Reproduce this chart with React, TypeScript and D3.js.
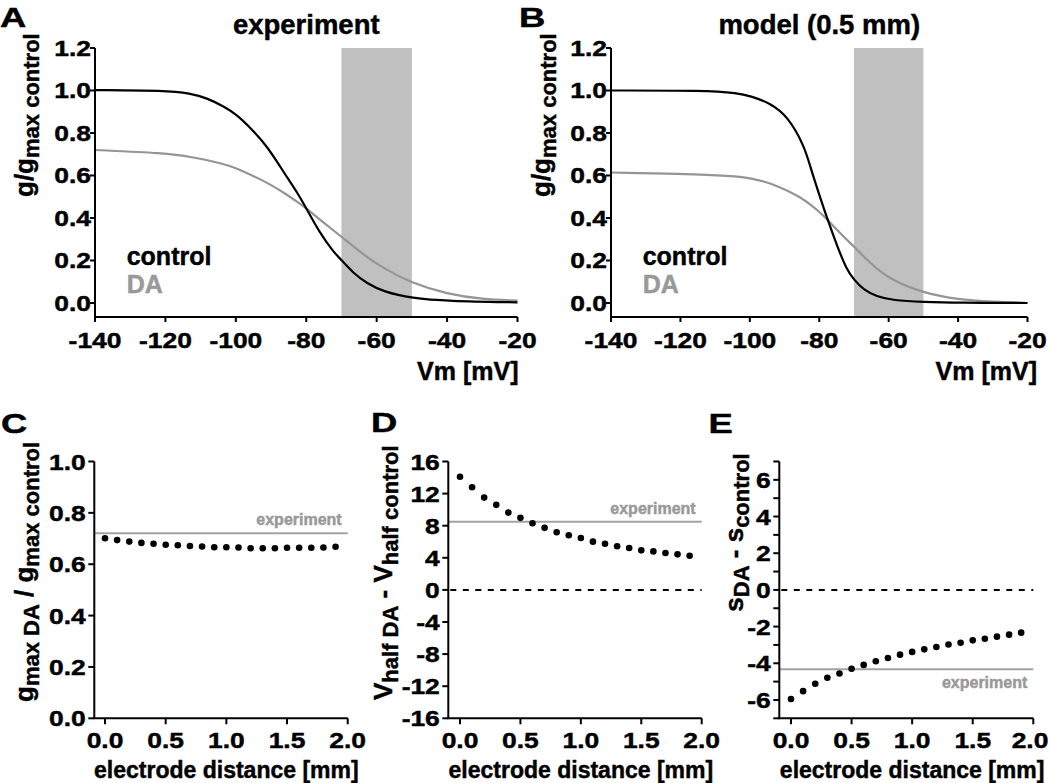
import React from "react";
import * as d3 from "d3";

// ---------- data ----------
const vmTicks = [-140, -120, -100, -80, -60, -40, -20];
const gTicks = [0, 0.2, 0.4, 0.6, 0.8, 1.0, 1.2];
const distTicks = [0, 0.5, 1.0, 1.5, 2.0];
const gmaxTicks = [0, 0.2, 0.4, 0.6, 0.8, 1.0];
const vhalfTicks = [-16, -12, -8, -4, 0, 4, 8, 12, 16];
const slopeTicks = [-6, -4, -2, 0, 2, 4, 6];
const slopeMinorTicks = [-7, -6, -5, -4, -3, -2, -1, 0, 1, 2, 3, 4, 5, 6, 7];

const windowVm = [-70, -50];

// Panel A (experiment)
const vmCtrlA = [-140, -120, -113, -108, -103.3, -100, -95.7, -91, -86.2, -82.4, -80, -76.1, -72.3, -70, -66.6, -62.8, -58.1, -50, -40, -20];
const gCtrlA = [1.002, 1.0, 0.987, 0.963, 0.924, 0.889, 0.822, 0.736, 0.61, 0.516, 0.446, 0.328, 0.241, 0.202, 0.14, 0.093, 0.053, 0.022, 0.009, 0.003];
const vmDaA = [-140, -120, -113, -103, -100, -96, -91, -86, -82, -80, -76, -70, -63, -58, -50, -40, -30, -20];
const gDaA = [0.72, 0.705, 0.689, 0.654, 0.634, 0.605, 0.566, 0.516, 0.469, 0.446, 0.39, 0.312, 0.218, 0.163, 0.093, 0.042, 0.017, 0.011];

// Panel B (model 0.5 mm)
const vmCtrlB = [-140, -113, -103.4, -100, -94, -89, -84.2, -82.4, -80, -77.6, -74.8, -72.1, -70, -67.3, -63.5, -58.8, -50, -40, -20];
const gCtrlB = [1.0, 1.0, 0.988, 0.975, 0.94, 0.877, 0.736, 0.63, 0.51, 0.392, 0.266, 0.157, 0.11, 0.063, 0.031, 0.012, 0.005, 0.001, 0.0];
const vmDaB = [-140, -113, -103.4, -100, -94, -89, -84.2, -80, -77.6, -73, -70, -65.4, -59.7, -50, -40, -30, -20];
const gDaB = [0.614, 0.606, 0.595, 0.588, 0.565, 0.527, 0.486, 0.43, 0.392, 0.312, 0.266, 0.188, 0.11, 0.047, 0.016, 0.006, 0.0];

// Panels C-E (model vs electrode distance)
const distance = [0, 0.1, 0.2, 0.3, 0.4, 0.5, 0.6, 0.7, 0.8, 0.9, 1.0, 1.1, 1.2, 1.3, 1.4, 1.5, 1.6, 1.7, 1.8, 1.9];
const gmaxRatio = [0.701, 0.694, 0.688, 0.683, 0.68, 0.676, 0.674, 0.671, 0.669, 0.666, 0.666, 0.665, 0.662, 0.662, 0.662, 0.664, 0.664, 0.664, 0.665, 0.668];
const vhalfDiff = [14.1, 12.8, 11.5, 10.6, 9.63, 8.98, 8.3, 7.73, 7.18, 6.81, 6.47, 6.01, 5.76, 5.43, 5.22, 4.93, 4.8, 4.59, 4.43, 4.26];
const slopeDiff = [-5.95, -5.52, -5.12, -4.79, -4.56, -4.3, -4.09, -3.89, -3.71, -3.53, -3.38, -3.24, -3.11, -2.98, -2.88, -2.75, -2.66, -2.55, -2.44, -2.33];

const expGmax = 0.721;
const expVhalf = 8.5;
const expSlope = -4.32;

// ---------- styles ----------
const FONT = "'Liberation Sans', Arial, Helvetica, sans-serif";
const GRAY_LINE = "#959595";
const GRAY_TEXT = "#999999";
const EXP_LINE = "#a3a3a3";
const RECT = "#c0c0c0";
const TEXT_STROKE = 0.45;

type TProps = {
  x: number; y: number; size: number; anchor?: string; sx?: number; fill?: string; children: React.ReactNode;
};
function T({ x, y, size, anchor = "start", sx = 1, fill = "#000", children }: TProps) {
  return (
    <text
      transform={`translate(${x},${y}) scale(${sx},1)`}
      fontFamily={FONT}
      fontWeight="bold"
      fontSize={size}
      textAnchor={anchor}
      fill={fill}
      stroke={fill}
      strokeWidth={TEXT_STROKE}
    >
      {children}
    </text>
  );
}

const TICK_SX = 1.2;
const TICK_SIZE = 22;

function VPanel(props: {
  x0: number; x1: number; title: string; letter: string; letterX: number;
  yLabelX: number; vmLabelEnd: number;
  ctrl: [number[], number[]]; da: [number[], number[]];
}) {
  const { x0, x1, title, letter, letterX, yLabelX, vmLabelEnd, ctrl, da } = props;
  const x = d3.scaleLinear().domain([-140, -20]).range([x0, x1]);
  const y = d3.scaleLinear().domain([-0.066, 1.2]).range([317, 48]);
  const line = d3.line<[number, number]>().x((d) => x(d[0])).y((d) => y(d[1])).curve(d3.curveBasis);
  const ctrlPts = ctrl[0].map((v, i) => [v, ctrl[1][i]] as [number, number]);
  const daPts = da[0].map((v, i) => [v, da[1][i]] as [number, number]);
  const fmt = d3.format(".1f");
  return (
    <g>
      <rect x={x(windowVm[0])} y={y(1.2)} width={x(windowVm[1]) - x(windowVm[0])} height={y(-0.066) - y(1.2)} fill={RECT} />
      <path d={line(daPts) || ""} fill="none" stroke={GRAY_LINE} strokeWidth={2.2} />
      <path d={line(ctrlPts) || ""} fill="none" stroke="#000" strokeWidth={2.2} />
      {/* axes */}
      <line x1={x0} x2={x0} y1={y(1.2)} y2={y(-0.066)} stroke="#000" strokeWidth={2} />
      <line x1={x0 - 1} x2={x1} y1={y(-0.066)} y2={y(-0.066)} stroke="#000" strokeWidth={2} />
      {gTicks.map((t) => (
        <g key={"gy" + t}>
          <line x1={x0 - 5} x2={x0} y1={y(t)} y2={y(t)} stroke="#000" strokeWidth={2} />
          <T x={x0 - 4} y={y(t) + 8} size={TICK_SIZE} anchor="end" sx={TICK_SX}>{fmt(t)}</T>
        </g>
      ))}
      {vmTicks.map((t) => (
        <g key={"gx" + t}>
          <line x1={x(t)} x2={x(t)} y1={y(-0.066)} y2={y(-0.066) + 5} stroke="#000" strokeWidth={2} />
          <T x={x(t)} y={348} size={TICK_SIZE} anchor="middle" sx={TICK_SX}>{String(t)}</T>
        </g>
      ))}
      <T x={vmLabelEnd} y={380} size={25} anchor="end">Vm [mV]</T>
      <T x={(x0 + x1) / 2} y={34} size={27.5} anchor="middle">{title}</T>
      <T x={letterX} y={27} size={28} sx={1.3}>{letter}</T>
      <T x={x0 + 31.7} y={265} size={25}>control</T>
      <T x={x0 + 31.7} y={293} size={25} fill={GRAY_TEXT}>DA</T>
      <text transform={`translate(${yLabelX},197) rotate(-90)`} fontFamily={FONT} fontWeight="bold" fontSize={26}
        stroke="#000" strokeWidth={TEXT_STROKE}>
        g/g<tspan fontSize={22} dy={5.5}>max control</tspan>
      </text>
    </g>
  );
}

function DistPanel(props: {
  x0: number; xZero: number; xTwo: number; domainY: [number, number]; ticks: number[]; minor?: number[];
  fmt: (v: number) => string; values: number[]; exp: number; expTextBelow?: boolean; zeroLine?: boolean;
  letter: string; letterX: number; letterY: number; yLabel: React.ReactNode; yLabelX: number; yLabelStart: number;
}) {
  const p = props;
  const scale = (p.xTwo - p.xZero) / 2;
  const x = d3.scaleLinear().domain([(p.x0 - p.xZero) / scale, 2]).range([p.x0, p.xTwo]);
  const y = d3.scaleLinear().domain(p.domainY).range([718.3, 461.5]);
  const yb = y(p.domainY[0]);
  const minor = p.minor || p.ticks;
  return (
    <g>
      {p.zeroLine && (
        <line x1={p.x0 + 2} x2={p.xTwo} y1={y(0)} y2={y(0)} stroke="#000" strokeWidth={2} strokeDasharray="6 6.5" />
      )}
      <line x1={p.x0} x2={p.xTwo} y1={y(p.exp)} y2={y(p.exp)} stroke={EXP_LINE} strokeWidth={2} />
      <T x={p.xTwo - 6} y={p.expTextBelow ? y(p.exp) + 19 : y(p.exp) - 8} size={16} anchor="end" fill={GRAY_TEXT}>experiment</T>
      {distance.map((d, i) => (
        <circle key={"pt" + i} cx={x(d)} cy={y(p.values[i])} r={3.3} fill="#000" />
      ))}
      <line x1={p.x0} x2={p.x0} y1={y(p.domainY[1])} y2={yb} stroke="#000" strokeWidth={2} />
      <line x1={p.x0 - 1} x2={p.xTwo} y1={yb} y2={yb} stroke="#000" strokeWidth={2} />
      {minor.map((t) => (
        <line key={"mn" + t} x1={p.x0 - 6} x2={p.x0} y1={y(t)} y2={y(t)} stroke="#000" strokeWidth={2} />
      ))}
      {p.ticks.map((t) => (
        <T key={"yt" + t} x={p.x0 - 8.5} y={y(t) + 8} size={TICK_SIZE} anchor="end" sx={TICK_SX}>{p.fmt(t)}</T>
      ))}
      {distTicks.map((t) => (
        <g key={"xt" + t}>
          <line x1={x(t)} x2={x(t)} y1={yb} y2={yb + 6} stroke="#000" strokeWidth={2} />
          <T x={Math.min(x(t), 1030)} y={748.3} size={TICK_SIZE} anchor="middle" sx={TICK_SX}>{d3.format(".1f")(t)}</T>
        </g>
      ))}
      <T x={x(1.0)} y={778} size={23} anchor="middle">electrode distance [mm]</T>
      <T x={p.letterX} y={p.letterY} size={28} sx={1.3}>{p.letter}</T>
      <text transform={`translate(${p.yLabelX},${p.yLabelStart}) rotate(-90)`} fontFamily={FONT} fontWeight="bold" fontSize={26}
        stroke="#000" strokeWidth={TEXT_STROKE}>
        {p.yLabel}
      </text>
    </g>
  );
}

export default function App() {
  return (
    <svg width={1050} height={783} style={{ position: "absolute", left: 0, top: 0, background: "#fff" }}>
      <rect x={0} y={0} width={1050} height={783} fill="#fff" />
      <VPanel x0={95} x1={517.5} title="experiment" letter="A" letterX={0} yLabelX={33} vmLabelEnd={518.5}
        ctrl={[vmCtrlA, gCtrlA]} da={[vmDaA, gDaA]} />
      <VPanel x0={611} x1={1027.5} title="model (0.5 mm)" letter="B" letterX={519} yLabelX={550} vmLabelEnd={1037}
        ctrl={[vmCtrlB, gCtrlB]} da={[vmDaB, gDaB]} />
      <DistPanel x0={94.3} xZero={105} xTwo={347.7} domainY={[0, 1]} ticks={gmaxTicks}
        fmt={d3.format(".1f")} values={gmaxRatio} exp={expGmax}
        letter="C" letterX={1} letterY={433.3} yLabelX={33} yLabelStart={702}
        yLabel={<>g<tspan fontSize={22} dy={5.5}>max DA</tspan><tspan dy={-5.5}> / g</tspan><tspan fontSize={22} dy={5.5}>max control</tspan></>} />
      <DistPanel x0={448.3} xZero={460} xTwo={701.7} domainY={[-16, 16]} ticks={vhalfTicks}
        fmt={(v) => String(v)} values={vhalfDiff} exp={expVhalf} zeroLine
        letter="D" letterX={371} letterY={431.7} yLabelX={391.7} yLabelStart={700}
        yLabel={<>V<tspan fontSize={22} dy={6}>half DA</tspan><tspan dy={-6}> - V</tspan><tspan fontSize={22} dy={6}>half control</tspan></>} />
      <DistPanel x0={779.3} xZero={791} xTwo={1033.3} domainY={[-7, 7]} ticks={slopeTicks} minor={slopeMinorTicks}
        fmt={(v) => String(v)} values={slopeDiff} exp={expSlope} expTextBelow zeroLine
        letter="E" letterX={708.5} letterY={433.3} yLabelX={743.3} yLabelStart={611.7}
        yLabel={<>s<tspan fontSize={22} dy={6}>DA</tspan><tspan dy={-6}> - s</tspan><tspan fontSize={22} dy={6}>control</tspan></>} />
    </svg>
  );
}
